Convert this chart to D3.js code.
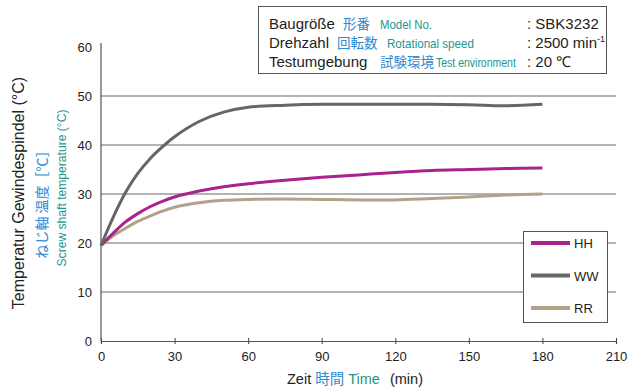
<!DOCTYPE html>
<html>
<head>
<meta charset="utf-8">
<script src="https://cdn.jsdelivr.net/npm/d3@7"></script>
<style>
  body { margin: 0; background: #fff; }
  svg { display: block; font-family: "Liberation Sans", Arial, sans-serif; }
  .jp { font-family: "Noto Sans CJK JP", sans-serif; }
</style>
</head>
<body>
<div id="chart"></div>
<script>
// 時間 (min)
const times = [0, 5, 10, 15, 20, 25, 30, 40, 50, 60, 75, 90, 105, 120, 135, 150, 165, 180]
// 各条件の温度 (°C)
const hhValues = [19.5, 22.0, 24.3, 26.0, 27.4, 28.5, 29.4, 30.6, 31.5, 32.1, 32.8, 33.4, 33.9, 34.4, 34.8, 35.0, 35.2, 35.3]
const wwValues = [19.5, 25.3, 30.3, 34.2, 37.2, 39.6, 41.7, 44.8, 46.7, 47.7, 48.1, 48.3, 48.3, 48.3, 48.3, 48.2, 48.0, 48.3]
const rrValues = [19.5, 21.5, 23.0, 24.4, 25.5, 26.5, 27.3, 28.2, 28.7, 28.9, 29.0, 28.9, 28.8, 28.8, 29.1, 29.4, 29.8, 30.0]

const seriesNames = ['HH', 'WW', 'RR']
const seriesColors = ['#a8238e', '#666666', '#b3a28a']

const xTicks = [0, 30, 60, 90, 120, 150, 180, 210]
const yTicks = [0, 10, 20, 30, 40, 50, 60]

const width = 628
const height = 387

const svg = d3.select('#chart').append('svg')
  .attr('width', width)
  .attr('height', height)

const xScale = d3.scaleLinear().domain([0, 210]).range([101, 616])
const yScale = d3.scaleLinear().domain([0, 60]).range([341, 47])

// グリッド線
svg.append('g')
  .selectAll('line')
  .data(yTicks.filter(d => d > 0 && d < 60))
  .enter()
  .append('line')
  .attr('x1', xScale(0))
  .attr('x2', xScale(210))
  .attr('y1', d => yScale(d))
  .attr('y2', d => yScale(d))
  .attr('stroke', '#9a9a9a')
  .attr('stroke-width', 1.5)

// x軸
const xAxis = d3.axisBottom(xScale)
  .tickValues(xTicks)
  .tickSize(3)
  .tickPadding(8)

const gx = svg.append('g')
  .attr('transform', `translate(0, ${yScale(0)})`)
  .call(xAxis)
gx.select('.domain').attr('stroke', '#555').attr('stroke-width', 1.2)
gx.selectAll('.tick line').attr('stroke', '#444').attr('y1', -3).attr('y2', 3)
gx.selectAll('.tick text')
  .attr('font-size', 13)
  .attr('fill', '#222')
  .style('font-family', '"Liberation Sans", Arial, sans-serif')

// y軸
const yAxis = d3.axisLeft(yScale)
  .tickValues(yTicks)
  .tickSize(0)
  .tickPadding(9)

const gy = svg.append('g')
  .attr('transform', `translate(${xScale(0)}, 0)`)
  .call(yAxis)
gy.select('.domain').attr('stroke', '#555').attr('stroke-width', 1.2).attr('d', `M0,${yScale(0)}V43`)
gy.selectAll('.tick text')
  .attr('font-size', 13)
  .attr('fill', '#222')
  .style('font-family', '"Liberation Sans", Arial, sans-serif')

// 曲線
const seriesData = [hhValues, wwValues, rrValues]
const line = d3.line()
  .x((d, i) => xScale(times[i]))
  .y(d => yScale(d))
  .curve(d3.curveCatmullRom.alpha(0.5))

svg.append('g')
  .selectAll('path')
  .data([rrValues, hhValues, wwValues])
  .enter()
  .append('path')
  .attr('d', d => line(d))
  .attr('fill', 'none')
  .attr('stroke', d => seriesColors[seriesData.indexOf(d)])
  .attr('stroke-width', 3)

// 凡例
const legend = svg.append('g')
legend.append('rect')
  .attr('x', 523.5)
  .attr('y', 231.5)
  .attr('width', 84)
  .attr('height', 91)
  .attr('fill', '#fff')
  .attr('stroke', '#555')
  .attr('stroke-width', 1)

const legendItems = legend.selectAll('g.item')
  .data(seriesNames)
  .enter()
  .append('g')
  .attr('class', 'item')
  .attr('transform', (d, i) => `translate(0, ${243 + i * 32.5})`)

legendItems.append('line')
  .attr('x1', 531)
  .attr('x2', 570)
  .attr('stroke', (d, i) => seriesColors[i])
  .attr('stroke-width', 4)

legendItems.append('text')
  .attr('x', 574)
  .attr('y', 5)
  .attr('font-size', 13)
  .attr('fill', '#222')
  .text(d => d)

// 試験条件の表
const info = svg.append('g')
info.append('rect')
  .attr('x', 258.5)
  .attr('y', 6.5)
  .attr('width', 348)
  .attr('height', 67)
  .attr('fill', '#fff')
  .attr('stroke', '#555')
  .attr('stroke-width', 1)

const rows = [
  { de: 'Baugröße', jp: '形番', jpX: 343, en: 'Model No.', enX: 380, enW: 52, val: ': SBK3232', y: 29 },
  { de: 'Drehzahl', jp: '回転数', jpX: 337, en: 'Rotational speed', enX: 387, enW: 87, val: ': 2500 min', y: 48 },
  { de: 'Testumgebung', jp: '試験環境', jpX: 380, en: 'Test environment', enX: 436, enW: 80, val: ': 20 ℃', y: 67 }
]

// 細い字体のテキストは横方向に縮めて描く
function condensed (parent, x, y, w, size, color, str) {
  const g = parent.append('g')
  const t = g.append('text')
    .attr('x', 0)
    .attr('y', 0)
    .attr('font-size', size)
    .attr('fill', color)
    .text(str)
  const natural = t.node().getComputedTextLength()
  g.attr('transform', `translate(${x}, ${y}) scale(${w / natural}, 1)`)
  return g
}

rows.forEach((r) => {
  info.append('text').attr('x', 269).attr('y', r.y).attr('font-size', 15).attr('fill', '#222').text(r.de)
  info.append('text').attr('class', 'jp').attr('x', r.jpX).attr('y', r.y).attr('font-size', 13.5).attr('fill', '#2f8ad2').text(r.jp)
  condensed(info, r.enX, r.y, r.enW, 13, '#22968f', r.en)
  const t = info.append('text').attr('x', 527).attr('y', r.y).attr('font-size', 15).attr('fill', '#222').text(r.val)
  if (r.val.indexOf('min') >= 0) {
    t.append('tspan').attr('font-size', 9).attr('dy', -6).text('-1')
  }
})

// 縦軸タイトル
svg.append('text')
  .attr('transform', 'translate(24, 193) rotate(-90)')
  .attr('text-anchor', 'middle')
  .attr('font-size', 16)
  .attr('fill', '#222')
  .text('Temperatur Gewindespindel (°C)')

svg.append('text')
  .attr('class', 'jp')
  .attr('transform', 'translate(47, 201) rotate(-90)')
  .attr('text-anchor', 'middle')
  .attr('font-size', 14)
  .attr('fill', '#2f8ad2')
  .text('ねじ軸 温度［℃］')

svg.append('text')
  .attr('transform', 'translate(66, 188) rotate(-90)')
  .attr('text-anchor', 'middle')
  .attr('font-size', 13.5)
  .attr('textLength', 157)
  .attr('lengthAdjust', 'spacingAndGlyphs')
  .attr('fill', '#22968f')
  .text('Screw shaft temperature (°C)')

// 横軸タイトル
const xTitle = svg.append('text')
  .attr('x', 287)
  .attr('y', 384)
  .attr('font-size', 14.5)
  .attr('fill', '#222')
xTitle.append('tspan').text('Zeit ')
xTitle.append('tspan').attr('class', 'jp').attr('fill', '#2f8ad2').text('時間')
xTitle.append('tspan').attr('fill', '#22968f').text(' Time')
xTitle.append('tspan').attr('dx', 6).text(' (min)')
</script>
</body>
</html>
